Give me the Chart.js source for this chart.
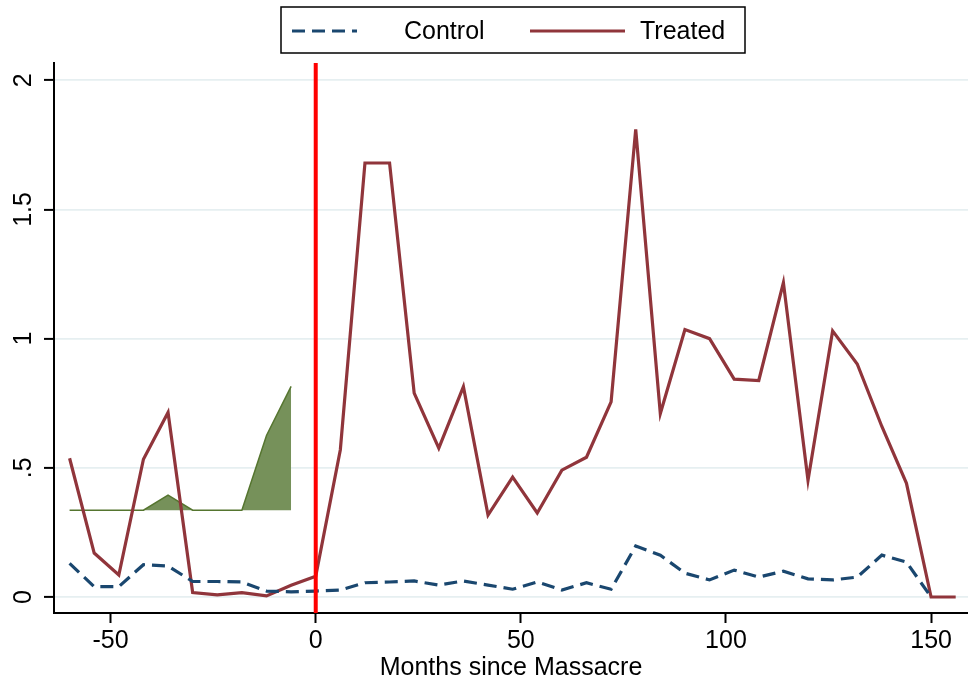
<!DOCTYPE html>
<html>
<head>
<meta charset="utf-8">
<script src="https://cdn.jsdelivr.net/npm/chart.js@4.4.1/dist/chart.umd.min.js"></script>
<style>
  body { margin: 0; background: #fff; }
  #wrap { width: 968px; height: 681px; }
</style>
</head>
<body>
<div id="wrap"><canvas id="chart" width="968" height="681"></canvas></div>
<script>
// months since the massacre, one point every 6 months
const months = [-60, -54, -48, -42, -36, -30, -24, -18, -12, -6, 0, 6, 12, 18, 24, 30, 36, 42, 48,
  54, 60, 66, 72, 78, 84, 90, 96, 102, 108, 114, 120, 126, 132, 138, 144, 150, 156];

const control = [0.13, 0.04, 0.04, 0.125, 0.12, 0.06, 0.06, 0.058, 0.023, 0.02, 0.023, 0.027, 0.055,
  0.058, 0.062, 0.046, 0.062, 0.046, 0.03, 0.058, 0.027, 0.055, 0.03, 0.197, 0.162, 0.092, 0.066,
  0.104, 0.077, 0.1, 0.07, 0.066, 0.077, 0.162, 0.135, 0, null];

const treated = [0.537, 0.17, 0.085, 0.533, 0.714, 0.017, 0.008, 0.017, 0.004, 0.045, 0.08, 0.57,
  1.68, 1.68, 0.789, 0.576, 0.814, 0.317, 0.464, 0.325, 0.491, 0.541, 0.755, 1.81, 0.71, 1.035, 1.0,
  0.843, 0.838, 1.217, 0.452, 1.03, 0.902, 0.66, 0.44, 0, 0];

// green shaded band in the pre-period
const shadeMonths = [-60, -54, -48, -42, -36, -30, -24, -18, -12, -6];
const shadeValues = [0.336, 0.336, 0.336, 0.336, 0.394, 0.336, 0.336, 0.336, 0.625, 0.815];
const shadeBase = 0.336;

const eventMonth = 0;

const xTicks = [-50, 0, 50, 100, 150];
const yTicks = [0, 0.5, 1, 1.5, 2];
const yTickLabels = ['0', '.5', '1', '1.5', '2'];

const FONT = '"Liberation Sans", Arial, Helvetica, sans-serif';

const toPoints = (xs, ys) => xs.map((x, i) => ({ x: x, y: ys[i] }));

// red line at the event date
const eventLine = {
  id: 'eventLine',
  afterDatasetsDraw(chart) {
    const { ctx, chartArea, scales } = chart;
    const x = scales.x.getPixelForValue(eventMonth);
    ctx.save();
    ctx.strokeStyle = '#ff0000';
    ctx.lineWidth = 4;
    ctx.beginPath();
    ctx.moveTo(x, chartArea.top);
    ctx.lineTo(x, chartArea.bottom);
    ctx.stroke();
    ctx.restore();
  }
};

// stata style vertical y labels
const yLabels = {
  id: 'yLabels',
  afterDraw(chart) {
    const { ctx, scales } = chart;
    ctx.save();
    ctx.font = '25px ' + FONT;
    ctx.fillStyle = '#000';
    ctx.textAlign = 'center';
    ctx.textBaseline = 'alphabetic';
    yTicks.forEach((v, i) => {
      const y = scales.y.getPixelForValue(v);
      ctx.save();
      ctx.translate(31, y);
      ctx.rotate(-Math.PI / 2);
      ctx.fillText(yTickLabels[i], 0, 0);
      ctx.restore();
    });
    ctx.restore();
  }
};

// boxed legend at the top, stata layout
const boxLegend = {
  id: 'boxLegend',
  afterDraw(chart) {
    const ctx = chart.ctx;
    const sets = chart.data.datasets.filter(d => d.label !== 'shade');
    const slots = [
      { x0: 292, x1: 357, tx: 404 },
      { x0: 530, x1: 625, tx: 640 }
    ];
    const cy = 31;
    ctx.save();
    ctx.strokeStyle = '#000';
    ctx.lineWidth = 1.5;
    ctx.strokeRect(281, 7, 464, 46);
    ctx.font = '25px ' + FONT;
    ctx.textBaseline = 'middle';
    ctx.textAlign = 'left';
    sets.forEach((d, i) => {
      const s = slots[i];
      ctx.strokeStyle = d.borderColor;
      ctx.lineWidth = d.borderWidth;
      ctx.setLineDash(d.borderDash || []);
      ctx.beginPath();
      ctx.moveTo(s.x0, cy);
      ctx.lineTo(s.x1, cy);
      ctx.stroke();
      ctx.setLineDash([]);
      ctx.fillStyle = '#000';
      ctx.fillText(d.label, s.tx, cy + 1);
    });
    ctx.restore();
  }
};

new Chart(document.getElementById('chart'), {
  type: 'line',
  data: {
    datasets: [
      {
        label: 'Control',
        data: toPoints(months, control),
        borderColor: '#1a476f',
        backgroundColor: 'rgba(0,0,0,0)',
        borderWidth: 3.2,
        borderDash: [13, 7],
        pointRadius: 0,
        tension: 0,
        fill: false
      },
      {
        label: 'Treated',
        data: toPoints(months, treated),
        borderColor: '#90353b',
        backgroundColor: 'rgba(0,0,0,0)',
        borderWidth: 3.2,
        pointRadius: 0,
        tension: 0,
        fill: false
      },
      {
        label: 'shade',
        data: toPoints(shadeMonths, shadeValues),
        borderColor: '#55752f',
        backgroundColor: '#76915a',
        borderWidth: 1.5,
        pointRadius: 0,
        tension: 0,
        fill: { value: shadeBase }
      }
    ]
  },
  options: {
    responsive: false,
    animation: false,
    layout: { padding: { top: 63, right: 0, left: 0, bottom: 0 } },
    plugins: {
      legend: { display: false },
      tooltip: { enabled: false }
    },
    scales: {
      x: {
        type: 'linear',
        min: -63.8,
        max: 159,
        afterBuildTicks: s => { s.ticks = xTicks.map(v => ({ value: v })); },
        afterFit: s => { s.height = 68; },
        ticks: {
          color: '#000',
          font: { family: FONT, size: 25 },
          padding: 3,
          maxRotation: 0
        },
        grid: {
          drawOnChartArea: false,
          tickLength: 10,
          tickColor: '#000',
          tickWidth: 2
        },
        border: { display: true, color: '#000', width: 2 },
        title: {
          display: true,
          text: 'Months since Massacre',
          color: '#000',
          font: { family: FONT, size: 25, lineHeight: 1 },
          padding: { top: 0, bottom: 0 }
        }
      },
      y: {
        type: 'linear',
        min: -0.062,
        max: 2.067,
        afterBuildTicks: s => { s.ticks = yTicks.map(v => ({ value: v })); },
        afterFit: s => { s.width = 54; },
        ticks: { display: false },
        grid: {
          color: '#e6eff1',
          lineWidth: 1.8,
          tickLength: 10,
          tickColor: '#000',
          tickWidth: 2
        },
        border: { display: true, color: '#000', width: 2 }
      }
    }
  },
  plugins: [eventLine, yLabels, boxLegend]
});
</script>
</body>
</html>
